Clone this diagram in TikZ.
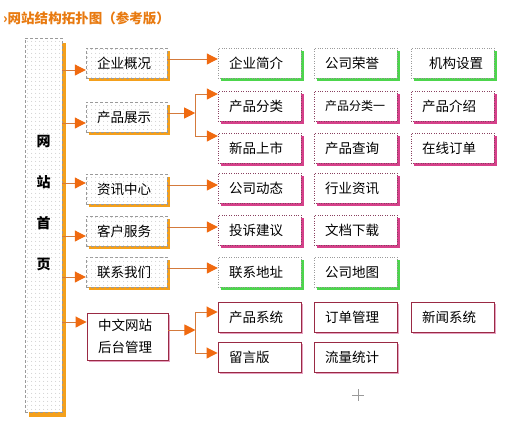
\documentclass[tikz,border=0pt]{standalone}
\usepackage{fontspec}
\setmainfont{Noto Sans CJK SC}
\usetikzlibrary{arrows.meta,shadows,patterns.meta}

\definecolor{framegray}{HTML}{9A9A9A}
\definecolor{dotgray}{HTML}{B8B8B8}
\definecolor{shadeorange}{HTML}{F4A01C}
\definecolor{shadegreen}{HTML}{4CD64C}
\definecolor{shadepink}{HTML}{D6408A}
\definecolor{framepink}{HTML}{8A4060}
\definecolor{sysred}{HTML}{9A2A44}
\definecolor{shadesys}{HTML}{E6A0C0}
\definecolor{wireorange}{HTML}{D47A3C}
\definecolor{tiporange}{HTML}{F06A10}
\definecolor{titleorange}{HTML}{E87A10}

\begin{document}
\begin{tikzpicture}[
  x = 1pt, y = -1pt,
  every node/.style = {font = \fontsize{13.5}{16}\selectfont, inner sep = 0pt},
  dotfill/.style = {fill = white,
    postaction = {pattern = {Dots[distance = 4pt, radius = 0.5pt]}, pattern color = dotgray}},
  homebox/.style = {dotfill, draw = framegray, dash pattern = on 3pt off 2pt,
    drop shadow = {shadow xshift = 4pt, shadow yshift = -5pt, fill = shadeorange, opacity = 1},
    minimum width = 37pt, minimum height = 374pt, align = center,
    font = \bfseries\fontsize{14}{41}\selectfont},
  section/.style = {dotfill, draw = framegray, dash pattern = on 3pt off 2pt,
    drop shadow = {shadow xshift = 3pt, shadow yshift = -3pt, fill = shadeorange, opacity = 1},
    minimum width = 81pt, minimum height = 30pt, text width = 59pt, inner xsep = 11pt, align = left},
  backend/.style = {fill = white, draw = sysred, line width = 0.9pt,
    drop shadow = {shadow xshift = 2pt, shadow yshift = -2pt, fill = shadesys, opacity = 1},
    minimum width = 81pt, minimum height = 47pt, text width = 59pt, inner xsep = 11pt, align = left,
    font = \fontsize{13.5}{22}\selectfont},
  item/.style = {fill = white, minimum width = 83pt, minimum height = 30pt,
    text width = 61pt, inner xsep = 11pt, align = left},
  greenitem/.style = {item, draw = framegray, dotted,
    drop shadow = {shadow xshift = 3pt, shadow yshift = -3pt, fill = shadegreen, opacity = 1}},
  pinkitem/.style = {item, draw = framepink, dotted,
    drop shadow = {shadow xshift = 3pt, shadow yshift = -3pt, fill = shadepink, opacity = 1}},
  sysitem/.style = {item, draw = sysred, line width = 0.9pt,
    drop shadow = {shadow xshift = 2pt, shadow yshift = -2pt, fill = shadesys, opacity = 1}},
  link/.style = {draw = wireorange, line width = 1pt,
    -{Triangle[length = 11pt, width = 11pt, color = tiporange]}},
  heading/.style = {font = \bfseries\fontsize{13.5}{16}\selectfont, text = titleorange, anchor = west},
  ]
  \useasboundingbox (0,0) rectangle (510,440);

  \node[heading] (title) at (3,18) {›网站结构拓扑图（参考版）};

  \node[homebox] (main) at (43.5,225) {网\\站\\首\\页\\[4pt]};

  \node[section] (s1) at (126.5,63) {企业概况};
  \node[section] (s2) at (126.5,117) {产品展示};
  \node[section] (s3) at (126.5,189) {资讯中心};
  \node[section] (s4) at (126.5,231) {客户服务};
  \node[section] (s5) at (126.5,272) {联系我们};
  \node[backend] (s6) at (127.5,336.5) {中文网站\\后台管理};

  \node[greenitem] (a1) at (259.5,63) {企业简介};
  \node[greenitem] (a2) at (355.5,63) {公司荣誉};
  \node[greenitem] (a3) at (452.5,63) {\hspace{7pt}机构设置};

  \node[pinkitem] (b1) at (259.5,106) {产品分类};
  \node[pinkitem] (b2) at (355.5,106) {\fontsize{12}{14}\selectfont 产品分类一};
  \node[pinkitem] (b3) at (452.5,106) {产品介绍};
  \node[pinkitem] (b4) at (259.5,148) {新品上市};
  \node[pinkitem] (b5) at (355.5,148) {产品查询};
  \node[pinkitem] (b6) at (452.5,148) {在线订单};

  \node[pinkitem] (c1) at (259.5,188) {公司动态};
  \node[pinkitem] (c2) at (355.5,188) {行业资讯};
  \node[pinkitem] (d1) at (259.5,230) {投诉建议};
  \node[pinkitem] (d2) at (355.5,230) {文档下载};
  \node[greenitem] (e1) at (259.5,272) {联系地址};
  \node[greenitem] (e2) at (355.5,272) {公司地图};

  \node[sysitem] (g1) at (259.5,317) {产品系统};
  \node[sysitem] (g2) at (355.5,317) {订单管理};
  \node[sysitem] (g3) at (452.5,317) {新闻系统};
  \node[sysitem] (g4) at (259.5,357) {留言版};
  \node[sysitem] (g5) at (355.5,357) {流量统计};

  \foreach \target/\dy in {s1/-7, s2/-6, s3/6, s4/-5, s5/-5, s6/14.5}
    \draw[link] ([yshift = \dy pt]\target.west -| main.east) -- ([yshift = \dy pt]\target.west);

  \draw[link] ([yshift = 4pt]s1.east) -- ([yshift = 4pt]s1.east -| a1.west);
  \draw[link] ([yshift = 4pt]s3.east) -- ([yshift = 4pt]s3.east -| c1.west);
  \draw[link] ([yshift = 4pt]s4.east) -- ([yshift = 4pt]s4.east -| d1.west);
  \draw[link] ([yshift = 4pt]s5.east) -- ([yshift = 4pt]s5.east -| e1.west);

  \coordinate (f1) at ([xshift = 28pt, yshift = 4pt]s2.east);
  \draw[link] ([yshift = 4pt]s2.east) -- (f1);
  \draw[link] (f1) |- ([yshift = 12pt]b1.west);
  \draw[link] (f1) |- ([yshift = 12pt]b4.west);

  \coordinate (f2) at ([xshift = 27pt, yshift = 6.5pt]s6.east);
  \draw[link] ([yshift = 6.5pt]s6.east) -- (f2);
  \draw[link] (f2) |- ([yshift = 5pt]g1.west);
  \draw[link] (f2) |- ([yshift = 4pt]g4.west);

  \coordinate (cursor) at (358,395);
  \draw[framegray, line width = 0.6pt] (cursor) +(-6,0) -- +(6,0) (cursor) +(0,-6) -- +(0,6);
\end{tikzpicture}
\end{document}
